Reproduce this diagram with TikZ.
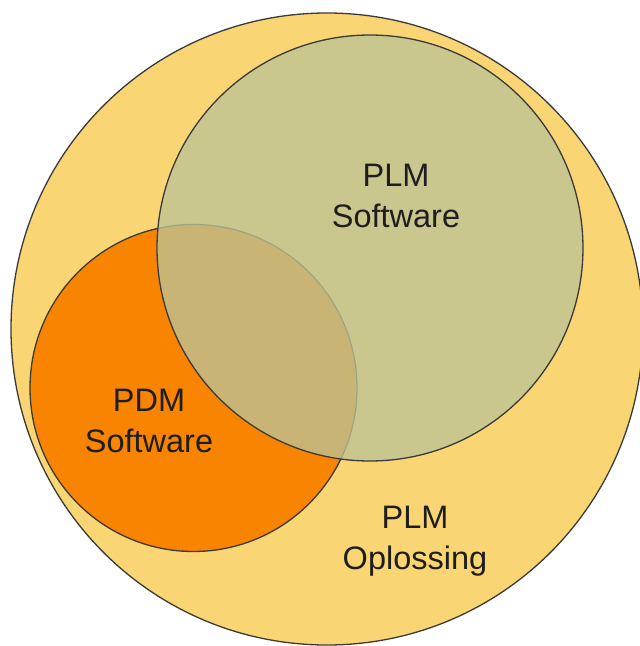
\documentclass[tikz,border=0pt]{standalone}
\usepackage{fontspec}
\setmainfont{Liberation Sans}
\definecolor{plmyellow}{HTML}{FAD574}
\definecolor{pdmorange}{HTML}{F98400}
\definecolor{plmgreen}{HTML}{BCC395}
\definecolor{edgegray}{HTML}{3A3A3A}
\definecolor{txt}{HTML}{1E1E1E}
\tikzset{
  setcircle/.style={circle, draw=edgegray, line width=1.3pt, inner sep=0pt},
  lbl/.style={align=center, text=txt, font=\fontsize{32.5}{41}\selectfont, inner sep=0pt}
}
\begin{document}
\begin{tikzpicture}[x=1pt,y=-1pt]
\useasboundingbox (0,0) rectangle (640,646);
\clip (0,0) rectangle (640,646);
\node[setcircle, fill=plmyellow, minimum size=632pt] (opl) at (327,329) {};
\node[setcircle, fill=pdmorange, minimum size=327pt] (pdm) at (193.5,388) {};
\node[setcircle, fill=plmgreen, fill opacity=0.79, minimum size=426pt] (plm) at (370,248) {};
\node[lbl] (plmtxt) at (396,196) {PLM\\Software};
\node[lbl] (pdmtxt) at (149,421) {PDM\\Software};
\node[lbl] (opltxt) at (415,541) {PLM\\Oplossing};
\end{tikzpicture}
\end{document}
